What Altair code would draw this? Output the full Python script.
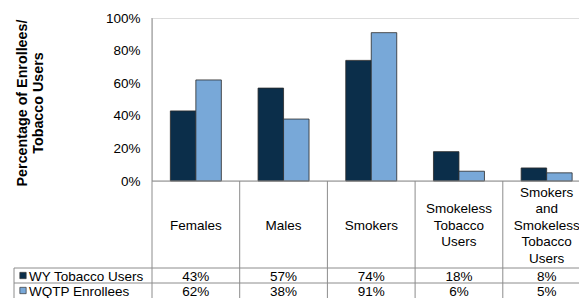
import altair as alt
import pandas as pd

categories = ["Females", "Males", "Smokers", "Smokeless Tobacco Users",
              "Smokers and Smokeless Tobacco Users"]
header_labels = ["Females", "Males", "Smokers", "Smokeless\nTobacco\nUsers",
                 "Smokers\nand\nSmokeless\nTobacco\nUsers"]
series = ["WY Tobacco Users", "WQTP Enrollees"]
wy_values = [43, 57, 74, 18, 8]
wqtp_values = [62, 38, 91, 6, 5]
y_ticks = [0, 20, 40, 60, 80, 100]
colors = ["#0B2E4A", "#78A8D8"]

FONT = "Liberation Sans"
FS = 13.5
SVG_W, SVG_H = 571, 290
PAD_L, PAD_T = 144, 10
W_PLOT = SVG_W - PAD_L
H_PLOT = 163
X_RANGE = [0, 438.5]
LH = 16.5
ROW1_TOP, ROW2_TOP, TABLE_BOTTOM = 250, 265, 300

rows = []
for i, c in enumerate(categories):
    rows.append({"cat": c, "series": series[0], "value": wy_values[i]})
    rows.append({"cat": c, "series": series[1], "value": wqtp_values[i]})
df = pd.DataFrame(rows)

xscale = alt.Scale(domain=categories, range=X_RANGE, paddingInner=0, paddingOuter=0)
color_scale = alt.Scale(domain=series, range=colors)

bars = alt.Chart(df).mark_bar(stroke="#2a2a2a", strokeWidth=0.8).encode(
    x=alt.X("cat:N", scale=xscale, axis=None, sort=categories),
    xOffset=alt.XOffset("series:N", sort=series,
                        scale=alt.Scale(paddingInner=0, paddingOuter=0.72)),
    y=alt.Y("value:Q", scale=alt.Scale(domain=[0, 100], nice=False),
            axis=alt.Axis(values=y_ticks, labelExpr="datum.value + '%'",
                          ticks=False, domain=False, grid=False, title=None,
                          labelPadding=12, labelFontSize=FS, labelFont=FONT,
                          labelColor="#000000")),
    color=alt.Color("series:N", scale=color_scale, legend=None),
)

line_color = "#8c8c8c"
base_rule = alt.Chart(pd.DataFrame({"k": [0]}))

yline = base_rule.mark_rule(color=line_color, strokeWidth=1).encode(
    x=alt.value(0), y=alt.value(0), y2=alt.value(TABLE_BOTTOM))
xline = base_rule.mark_rule(color=line_color, strokeWidth=1).encode(
    x=alt.value(0), x2=alt.value(X_RANGE[1]), y=alt.value(H_PLOT))
row1 = base_rule.mark_rule(color=line_color, strokeWidth=1).encode(
    x=alt.value(-138), x2=alt.value(X_RANGE[1]), y=alt.value(ROW1_TOP))
row2 = base_rule.mark_rule(color=line_color, strokeWidth=1).encode(
    x=alt.value(-138), x2=alt.value(X_RANGE[1]), y=alt.value(ROW2_TOP))
legleft = base_rule.mark_rule(color=line_color, strokeWidth=1).encode(
    x=alt.value(-138), y=alt.value(ROW1_TOP), y2=alt.value(TABLE_BOTTOM))

sep_df = pd.DataFrame({"cat": categories})
seps = alt.Chart(sep_df).mark_rule(color=line_color, strokeWidth=1).encode(
    x=alt.X("cat:N", scale=xscale, sort=categories, axis=None, bandPosition=1),
    y=alt.value(H_PLOT), y2=alt.value(TABLE_BOTTOM))

hdr_center = 207.5
hdr_y = [hdr_center - (lab.count("\n")) * LH / 2 for lab in header_labels]
hdr_df = pd.DataFrame({"cat": categories, "label": header_labels, "ypos": hdr_y})
header = alt.Chart(hdr_df).mark_text(
    font=FONT, fontSize=FS, lineBreak="\n", lineHeight=LH,
    baseline="middle", align="center", color="#000000").encode(
    x=alt.X("cat:N", scale=xscale, sort=categories, axis=None, bandPosition=0.5),
    y=alt.Y("ypos:Q", scale=None), text="label:N")

val_df = pd.DataFrame({
    "cat": categories * 2,
    "txt": [f"{v}%" for v in wy_values] + [f"{v}%" for v in wqtp_values],
    "ypos": [258.5] * 5 + [274] * 5,
})
vals = alt.Chart(val_df).mark_text(
    font=FONT, fontSize=FS, baseline="middle", align="center", color="#000000"
).encode(
    x=alt.X("cat:N", scale=xscale, sort=categories, axis=None, bandPosition=0.5),
    y=alt.Y("ypos:Q", scale=None), text="txt:N")

leg_df = pd.DataFrame({"series": series, "ypos": [258.5, 274],
                       "sq": [257.5, 272.5]})
leg_sq = alt.Chart(leg_df).mark_square(size=40, stroke="#333333", strokeWidth=0.7,
                                       opacity=1).encode(
    x=alt.value(-129), y=alt.Y("sq:Q", scale=None),
    color=alt.Color("series:N", scale=color_scale, legend=None))
leg_txt = alt.Chart(leg_df).mark_text(
    font=FONT, fontSize=FS, baseline="middle", align="left", color="#000000"
).encode(
    x=alt.value(-123), y=alt.Y("ypos:Q", scale=None), text="series:N")

t_df = pd.DataFrame({"t": ["Percentage of Enrollees/", "Tobacco Users"],
                     "xp": [-125.5, -109.5]})
ytitle = alt.Chart(t_df).mark_text(
    font=FONT, fontSize=14.3, fontWeight="bold", angle=270, align="center",
    baseline="alphabetic", color="#000000").encode(
    x=alt.X("xp:Q", scale=None), y=alt.value(85), text="t:N")

chart = alt.layer(
    bars, yline, xline, row1, row2, legleft, seps, header, vals, leg_sq, leg_txt, ytitle
).properties(
    width=W_PLOT, height=H_PLOT,
    autosize=alt.AutoSizeParams(type="none"),
    padding={"left": PAD_L, "top": PAD_T, "right": 0,
             "bottom": SVG_H - PAD_T - H_PLOT},
).configure_view(stroke=None).configure(background="white")

chart.save("out.html", embed_options={"renderer": "svg", "actions": False})
